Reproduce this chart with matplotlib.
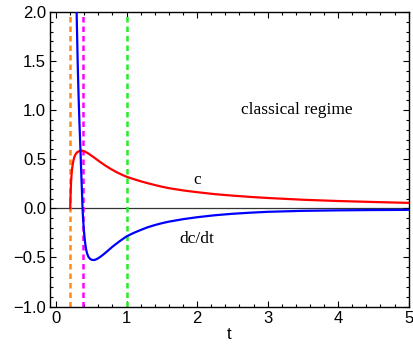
import numpy as np
import matplotlib.pyplot as plt
from matplotlib.ticker import MultipleLocator, FuncFormatter

# values
t_c = [0.2, 0.203, 0.207, 0.212, 0.218, 0.225, 0.235, 0.245, 0.26, 0.28, 0.3, 0.325,
       0.35, 0.375, 0.41, 0.45, 0.5, 0.55, 0.62, 0.7, 0.78, 0.85, 0.92, 1.0, 1.1,
       1.2, 1.3, 1.4, 1.5, 1.6, 1.8, 2.0, 2.25, 2.5, 2.75, 3.0, 3.5, 4.0, 4.5, 5.0]
c_vals = [0.0, 0.08, 0.17, 0.26, 0.33, 0.39, 0.445, 0.485, 0.525, 0.555, 0.572, 0.582,
          0.587, 0.588, 0.578, 0.562, 0.538, 0.512, 0.475, 0.435, 0.4, 0.372, 0.347,
          0.322, 0.298, 0.276, 0.256, 0.238, 0.221, 0.206, 0.183, 0.165, 0.145, 0.13,
          0.117, 0.106, 0.088, 0.075, 0.065, 0.056]

t_dc = [0.285, 0.29, 0.295, 0.30, 0.305, 0.313, 0.32, 0.33, 0.338, 0.346, 0.353, 0.36,
        0.368, 0.375, 0.385, 0.395, 0.41, 0.425, 0.44, 0.46, 0.48, 0.5, 0.525, 0.55,
        0.58, 0.62, 0.67, 0.72, 0.8, 0.9, 1.0, 1.1, 1.2, 1.3, 1.4, 1.5, 1.6, 1.8,
        2.0, 2.25, 2.5, 2.75, 3.0, 3.5, 4.0, 4.5, 5.0]
dc_vals = [2.3, 2.05, 1.87, 1.7, 1.53, 1.3, 1.12, 0.9, 0.74, 0.59, 0.44, 0.3,
           0.15, 0.0, -0.13, -0.23, -0.34, -0.415, -0.46, -0.495, -0.512, -0.522,
           -0.526, -0.524, -0.515, -0.497, -0.47, -0.44, -0.39, -0.335, -0.285,
           -0.25, -0.22, -0.192, -0.17, -0.151, -0.135, -0.11, -0.09, -0.07, -0.055,
           -0.044, -0.035, -0.025, -0.02, -0.017, -0.015]

vlines_t = [0.2, 0.375, 1.0]
vlines_col = ['#ff8c1a', '#ff00ff', '#22ee22']

fig = plt.figure(figsize=(4.14, 3.52), dpi=100)
ax = fig.add_axes([0.121, 0.129, 0.866, 0.837])

ax.axhline(0, color='#333333', lw=0.9, zorder=1)
for tv, col in zip(vlines_t, vlines_col):
    ax.axvline(tv, color=col, lw=1.8, ls=(0, (2.2, 1.6)), zorder=2)

ax.plot(t_c, c_vals, color='#ff0000', lw=1.6, zorder=3)
ax.plot(t_dc, dc_vals, color='#0000ff', lw=1.6, zorder=4)

ax.text(3.42, 1.0, 'classical regime', family='Liberation Serif', fontsize=12.5,
        ha='center', va='center')
ax.text(2.0, 0.285, 'c', family='Liberation Serif', fontsize=12.5, ha='center', va='center')
ax.text(2.0, -0.31, 'dc/dt', family='Liberation Serif', fontsize=12.5, ha='center', va='center')

ax.set_xlim(-0.085, 5.0)
ax.set_ylim(-1.0, 2.0)
ax.xaxis.set_major_locator(MultipleLocator(1))
ax.xaxis.set_minor_locator(MultipleLocator(0.2))
ax.yaxis.set_major_locator(MultipleLocator(0.5))
ax.yaxis.set_minor_locator(MultipleLocator(0.1))
ax.yaxis.set_major_formatter(FuncFormatter(lambda v, p: f'{v:.1f}'.replace('-', '\u2212')))
ax.tick_params(which='both', direction='in', top=True, right=True, width=0.8,
               labelsize=12, labelfontfamily='Liberation Sans')
ax.tick_params(which='major', length=4, pad=3)
ax.tick_params(which='minor', length=2)
for s in ax.spines.values():
    s.set_linewidth(1.0)
ax.set_xlabel('t', family='Liberation Sans', fontsize=12, labelpad=1)

fig.savefig('out.png', dpi=100)
